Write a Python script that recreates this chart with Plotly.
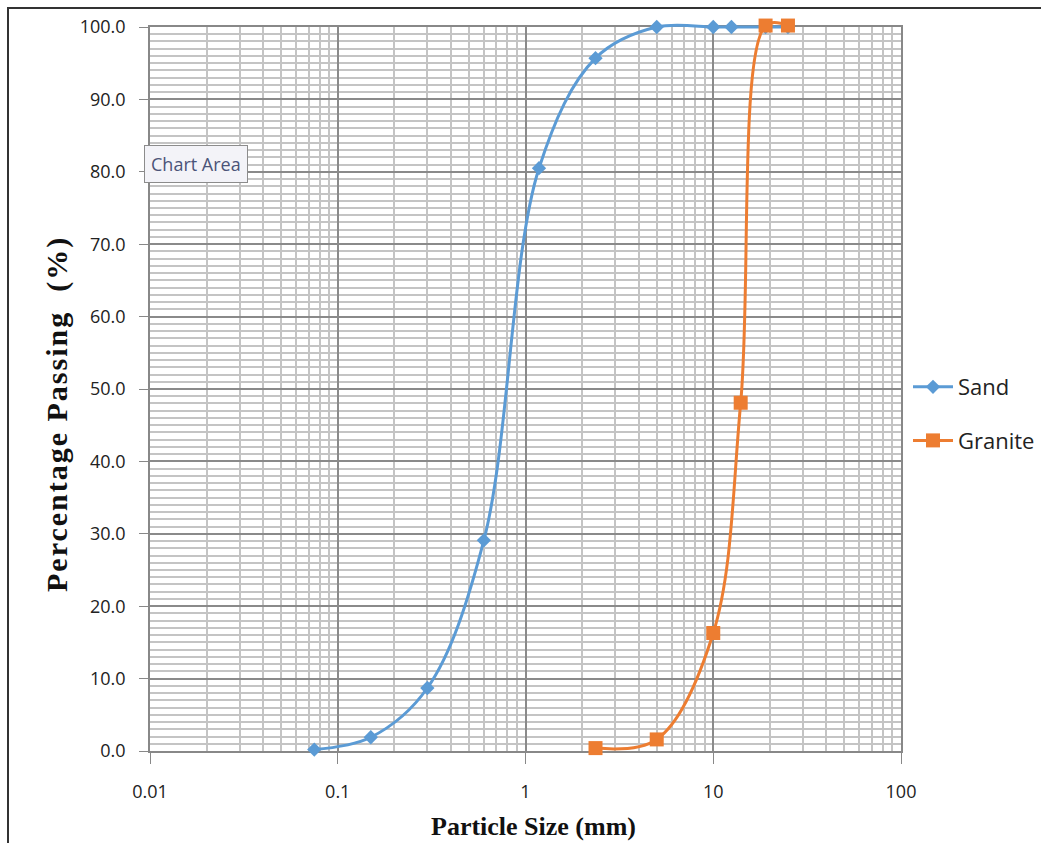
import plotly.graph_objects as go

# Data
sand_size = [0.075, 0.15, 0.3, 0.6, 1.18, 2.36, 5.0, 10.0, 12.5, 19.0, 25.0]
sand_pass = [0.2, 1.9, 8.7, 29.1, 80.5, 95.7, 100.0, 100.0, 100.0, 100.0, 100.0]
granite_size = [2.36, 5.0, 10.0, 14.0, 19.0, 25.0]
granite_pass = [0.4, 1.6, 16.3, 48.1, 100.2, 100.2]

x_tick_vals = [0.01, 0.1, 1, 10, 100]
x_tick_text = ["0.01", "0.1", "1", "10", "100"]
y_tick_vals = list(range(0, 101, 10))
y_tick_text = [f"{v:.1f}" for v in y_tick_vals]

W, H = 1041, 843
ml, mr, mt, mb = 150, 140, 12, 80
pw, ph = W - ml - mr, H - mt - mb
grid_top_px, grid_bot_px = 27, 751     # pixel rows of the 100 and 0 gridlines
dom0 = (H - mb - grid_bot_px) / ph
dom1 = (H - mb - grid_top_px) / ph
unit_px = (grid_bot_px - grid_top_px) / 100.0
y2_lo = -(H - mb - grid_bot_px) / unit_px
y2_hi = 100 + (grid_top_px - mt) / unit_px

def px(x):
    return (x - ml) / pw

def py(y):
    return (H - mb - y) / ph

minor_x = [m * 10.0 ** e for e in range(-2, 2) for m in range(2, 10)]
minor_y = [v for v in range(0, 101) if v % 10 != 0]

fig = go.Figure()
# empty trace so that the gridded axis pair is drawn
fig.add_trace(go.Scatter(x=[], y=[], xaxis="x", yaxis="y", showlegend=False,
                         hoverinfo="skip", mode="markers"))
fig.add_trace(go.Scatter(
    x=sand_size, y=sand_pass, name="Sand", mode="lines+markers",
    line=dict(color="#5b9bd5", width=3, shape="spline", smoothing=1.0),
    marker=dict(symbol="diamond", size=11, color="#5b9bd5"),
    xaxis="x2", yaxis="y2", legendgroup="a"))
fig.add_trace(go.Scatter(
    x=granite_size, y=granite_pass, name="Granite", mode="lines+markers",
    line=dict(color="#ed7d31", width=3, shape="spline", smoothing=1.0),
    marker=dict(symbol="square", size=14, color="#ed7d31"),
    xaxis="x2", yaxis="y2", legendgroup="b"))

axis_font = dict(family="Open Sans, Liberation Sans, sans-serif", size=18, color="#222")

fig.update_layout(
    xaxis=dict(
        type="log", range=[-2, 2], domain=[0, 1], anchor="y",
        tickmode="array", tickvals=x_tick_vals, ticktext=x_tick_text,
        showgrid=True, gridcolor="#8a8a8a", gridwidth=1.5,
        ticks="outside", ticklen=11, tickcolor="#888", ticklabelstandoff=13,
        showline=True, linecolor="#888", linewidth=1.5, mirror=True,
        tickfont=axis_font,
        minor=dict(tickmode="array", tickvals=minor_x, showgrid=True,
                   gridcolor="#c4c4c4", gridwidth=1.5, ticks=""),
        zeroline=False,
    ),
    yaxis=dict(
        range=[0, 100], domain=[dom0, dom1], anchor="x",
        tickmode="array", tickvals=y_tick_vals, ticktext=y_tick_text,
        showgrid=True, gridcolor="#8a8a8a", gridwidth=1.5,
        ticks="outside", ticklen=9, tickcolor="#888", ticklabelstandoff=10,
        showline=True, linecolor="#888", linewidth=1.5, mirror=True,
        tickfont=axis_font,
        minor=dict(tickmode="array", tickvals=minor_y, showgrid=True,
                   gridcolor="#c4c4c4", gridwidth=1.5, ticks=""),
        zeroline=False,
    ),
    xaxis2=dict(type="log", range=[-2, 2], domain=[0, 1], anchor="y2",
                visible=False, showgrid=False, zeroline=False),
    yaxis2=dict(range=[y2_lo, y2_hi], domain=[0, 1], anchor="x2",
                visible=False, showgrid=False, zeroline=False),
    width=W, height=H,
    margin=dict(l=ml, r=mr, t=mt, b=mb, autoexpand=False),
    paper_bgcolor="white", plot_bgcolor="rgba(0,0,0,0)",
    showlegend=True,
    legend=dict(x=px(908), y=py(414), yanchor="middle", xanchor="left",
                font=dict(family="Open Sans, Liberation Sans, sans-serif", size=22, color="#222"),
                tracegroupgap=22, bgcolor="rgba(0,0,0,0)", itemwidth=40),
    shapes=[
        dict(type="rect", xref="paper", yref="paper",
             x0=px(8), x1=px(1060), y0=py(880), y1=py(8),
             line=dict(color="#333", width=2), fillcolor="rgba(0,0,0,0)", layer="below"),
    ],
    annotations=[
        dict(text="Chart Area", xref="paper", yref="paper",
             x=px(196), y=py(164), xanchor="center", yanchor="middle", showarrow=False,
             font=dict(family="Open Sans, Liberation Sans, sans-serif", size=18, color="#4b5478"),
             bgcolor="#f3f3f8", bordercolor="#8c8c8c", borderwidth=1, borderpad=6),
        dict(text="<b><span style=\"letter-spacing:2px\">Percentage Passing  (%)</span></b>",
             xref="paper", yref="paper", x=px(57), y=py(414),
             xanchor="center", yanchor="middle", textangle=-90, showarrow=False,
             font=dict(family="Liberation Serif, serif", size=30, color="#111")),
        dict(text="<b>Particle Size (mm)</b>",
             xref="paper", yref="paper", x=px(533), y=py(826),
             xanchor="center", yanchor="middle", showarrow=False,
             font=dict(family="Liberation Serif, serif", size=26, color="#111")),
    ],
)

fig.write_html("out.html")
